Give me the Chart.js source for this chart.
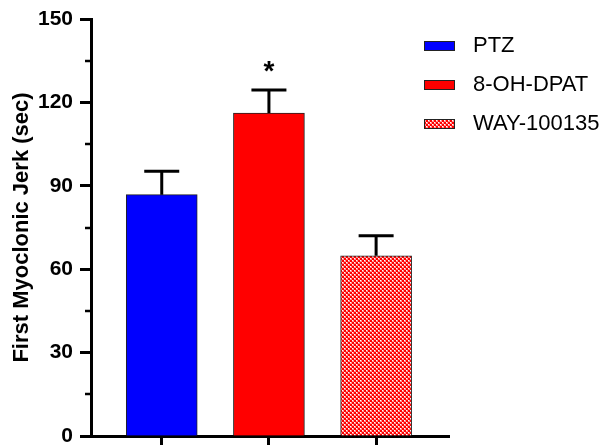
<!DOCTYPE html>
<html lang="en">

<head>
    <meta charset="UTF-8">
    <title>First Myoclonic Jerk</title>
    <style>
        body { margin: 0; background: #fff; }
    </style>
</head>

<body>
    <canvas id="myChart" width="603" height="445"></canvas>

    <script src="https://cdn.jsdelivr.net/npm/chart.js"></script>

    <script>

        // data
        var groups = ["PTZ", "8-OH-DPAT", "WAY-100135"];
        var means = [86.8, 116.2, 64.8];
        var sems = [8.4, 8.3, 7.2];
        var stars = ["", "*", ""];
        var yTicks = [0, 30, 60, 90, 120, 150];
        var yMinorTicks = [15, 45, 75, 105, 135];

        var FONT = "'Liberation Sans', Arial, sans-serif";

        // red / white checkerboard for the third group
        function checker() {
            var c = document.createElement("canvas");
            c.width = 4;
            c.height = 4;
            var g = c.getContext("2d");
            g.fillStyle = "#ff0000";
            g.fillRect(0, 0, 4, 4);
            [[0, 0], [2, 2]].forEach(p => {
                g.fillStyle = "#ff9090";
                g.fillRect(p[0], p[1], 2, 2);
                g.fillStyle = "#ffffff";
                g.fillRect(p[0], p[1], 1, 1);
            });
            return g.createPattern(c, "repeat");
        }

        var fills = ["#0000ff", "#ff0000", checker()];

        var extras = {
            id: "extras",
            afterDatasetsDraw(chart) {
                var ctx = chart.ctx;
                var x = chart.scales.x;
                var y = chart.scales.y;
                ctx.save();

                // minor ticks on the y axis
                ctx.strokeStyle = "#000";
                ctx.lineWidth = 2.5;
                yMinorTicks.forEach(v => {
                    var py = Math.round(y.getPixelForValue(v));
                    ctx.beginPath();
                    ctx.moveTo(chart.chartArea.left - 6, py);
                    ctx.lineTo(chart.chartArea.left, py);
                    ctx.stroke();
                });

                // error bars (upper half only) and stars
                ctx.lineWidth = 3;
                means.forEach((m, i) => {
                    var px = x.getPixelForValue(i + 1);
                    var top = y.getPixelForValue(m + sems[i]);
                    ctx.beginPath();
                    ctx.moveTo(px, y.getPixelForValue(m));
                    ctx.lineTo(px, top);
                    ctx.moveTo(px - 17.5, top);
                    ctx.lineTo(px + 17.5, top);
                    ctx.stroke();
                    if (stars[i]) {
                        ctx.fillStyle = "#000";
                        ctx.font = "bold 28px " + FONT;
                        ctx.textAlign = "center";
                        ctx.textBaseline = "middle";
                        ctx.fillText(stars[i], px, top - 18);
                    }
                });

                // legend
                ctx.font = "22px " + FONT;
                ctx.textAlign = "left";
                ctx.textBaseline = "middle";
                groups.forEach((g, i) => {
                    var cy = 46 + i * 39;
                    ctx.fillStyle = fills[i];
                    ctx.fillRect(424, cy - 4.5, 31, 9);
                    ctx.lineWidth = 1;
                    ctx.strokeStyle = "#222";
                    ctx.strokeRect(424.5, cy - 4.5, 30, 9);
                    ctx.fillStyle = "#000";
                    ctx.fillText(g, 473, cy);
                });
                ctx.restore();
            }
        };

        var chart = new Chart("myChart", {
            type: "bar",
            data: {
                datasets: [{
                    data: means.map((m, i) => ({ x: i + 1, y: m })),
                    backgroundColor: fills,
                    borderColor: "#222",
                    borderWidth: { top: 1, left: 1, right: 1, bottom: 0 },
                    barThickness: 71
                }]
            },
            options: {
                responsive: false,
                animation: false,
                layout: { padding: { top: 19, right: 154, left: 0, bottom: 0 } },
                plugins: {
                    legend: { display: false },
                    tooltip: { enabled: false }
                },
                scales: {
                    x: {
                        type: "linear",
                        offset: false,
                        min: 0.34,
                        max: 3.68,
                        afterBuildTicks: s => { s.ticks = groups.map((g, i) => ({ value: i + 1 })); },
                        afterFit: s => { s.height = 9; },
                        ticks: { display: false },
                        grid: { offset: false, drawOnChartArea: false, tickLength: 9, tickWidth: 3, tickColor: "#000" },
                        border: { color: "#000", width: 3 }
                    },
                    y: {
                        min: 0,
                        max: 150,
                        afterBuildTicks: s => { s.ticks = yTicks.map(v => ({ value: v })); },
                        afterFit: s => { s.width = 91; s.paddingTop = 0; s.paddingBottom = 0; },
                        ticks: {
                            color: "#000",
                            padding: 7,
                            font: { family: FONT, size: 21, weight: "bold" }
                        },
                        grid: { drawOnChartArea: false, tickLength: 11, tickWidth: 3, tickColor: "#000" },
                        border: { color: "#000", width: 3 },
                        title: {
                            display: true,
                            text: "First Myoclonic Jerk (sec)",
                            color: "#000",
                            padding: { top: 9, bottom: 0 },
                            font: { family: FONT, size: 22, weight: "bold" }
                        }
                    }
                }
            },
            plugins: [extras]
        });

    </script>
</body>

</html>
